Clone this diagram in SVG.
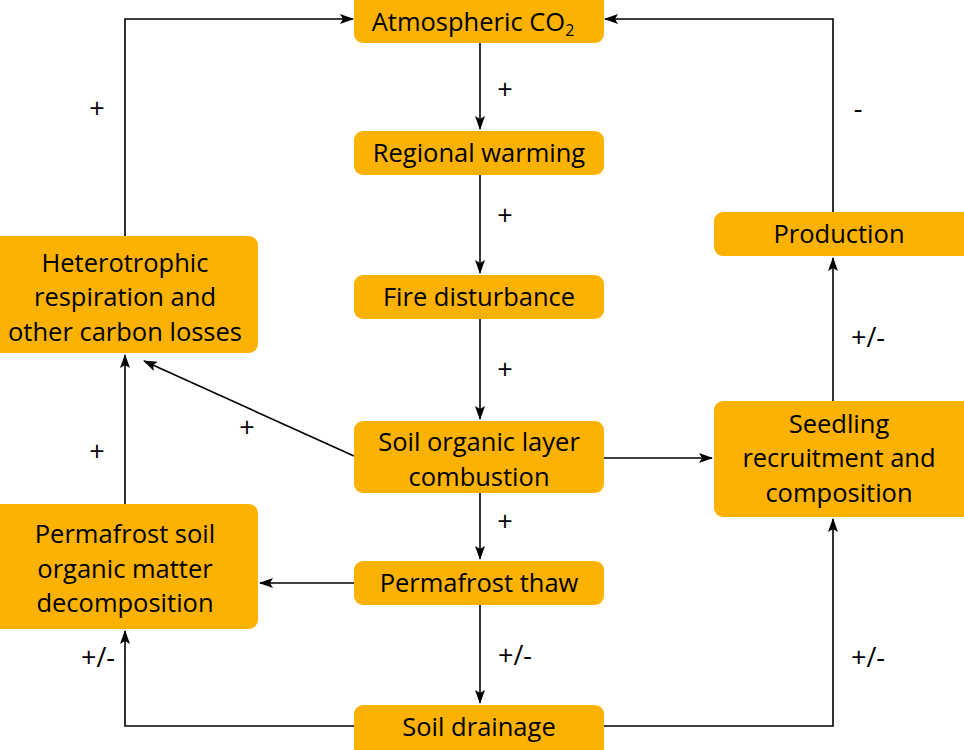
<svg xmlns="http://www.w3.org/2000/svg" width="964" height="750" viewBox="0 0 964 750">
<style>
.n rect{fill:#FBB202;}
.n text{font-family:"Open Sans","Noto Sans",sans-serif;font-size:25.5px;fill:#000;text-anchor:middle;}
.c path{fill:none;stroke:#000;stroke-width:1.6;}
.l{font-family:"Open Sans","Noto Sans",sans-serif;font-size:27px;fill:#000;text-anchor:middle;}
</style>
<defs>
<marker id="a" markerWidth="14" markerHeight="10" refX="13" refY="5" orient="auto" markerUnits="userSpaceOnUse">
<path d="M0,0 L14,5 L0,10 L3,5 Z" fill="#000"/>
</marker>
</defs>
<rect width="964" height="750" fill="#fff"/>
<g class="c">
<path d="M125,236 V19 H353" marker-end="url(#a)"/>
<path d="M833,212 V19 H605" marker-end="url(#a)"/>
<path d="M480,43 V129" marker-end="url(#a)"/>
<path d="M480,175 V273" marker-end="url(#a)"/>
<path d="M480,319 V419" marker-end="url(#a)"/>
<path d="M480,493 V559" marker-end="url(#a)"/>
<path d="M480,605 V703" marker-end="url(#a)"/>
<path d="M354,456 L144,361" marker-end="url(#a)"/>
<path d="M604,458 H712" marker-end="url(#a)"/>
<path d="M125,504 V355" marker-end="url(#a)"/>
<path d="M354,583 H260" marker-end="url(#a)"/>
<path d="M354,726 H125 V631" marker-end="url(#a)"/>
<path d="M604,726 H833 V519" marker-end="url(#a)"/>
<path d="M833,401 V258" marker-end="url(#a)"/>
</g>
<g>
<text class="l" x="97" y="118">+</text>
<text class="l" x="858" y="118">-</text>
<text class="l" x="505" y="99">+</text>
<text class="l" x="505" y="225">+</text>
<text class="l" x="505" y="379">+</text>
<text class="l" x="505" y="531">+</text>
<text class="l" x="515" y="665">+/-</text>
<text class="l" x="247" y="437">+</text>
<text class="l" x="97" y="461">+</text>
<text class="l" x="98" y="667">+/-</text>
<text class="l" x="868" y="667">+/-</text>
<text class="l" x="868" y="347">+/-</text>
</g>
<g class="n" id="atmos"><rect x="354" y="-8" width="250" height="51" rx="9"/><text x="473" y="31">Atmospheric CO<tspan font-size="16" dy="5">2</tspan></text></g>
<g class="n" id="warming"><rect x="354" y="131" width="250" height="44" rx="9"/><text x="479" y="162">Regional warming</text></g>
<g class="n" id="fire"><rect x="354" y="275" width="250" height="44" rx="9"/><text x="479" y="306">Fire disturbance</text></g>
<g class="n" id="combustion"><rect x="354" y="421" width="250" height="72" rx="9"/><text x="479" y="451">Soil organic layer</text><text x="479" y="486">combustion</text></g>
<g class="n" id="thaw"><rect x="354" y="561" width="250" height="44" rx="9"/><text x="479" y="592">Permafrost thaw</text></g>
<g class="n" id="drainage"><rect x="354" y="705" width="250" height="55" rx="9"/><text x="479" y="736">Soil drainage</text></g>
<g class="n" id="hetero"><rect x="-10" y="236" width="268" height="117" rx="9"/><text x="125" y="272">Heterotrophic</text><text x="125" y="306">respiration and</text><text x="125" y="341">other carbon losses</text></g>
<g class="n" id="decomp"><rect x="-10" y="504" width="268" height="125" rx="9"/><text x="125" y="543">Permafrost soil</text><text x="125" y="578">organic matter</text><text x="125" y="612">decomposition</text></g>
<g class="n" id="production"><rect x="714" y="212" width="260" height="44" rx="9"/><text x="839" y="243">Production</text></g>
<g class="n" id="seedling"><rect x="714" y="401" width="260" height="116" rx="9"/><text x="839" y="433">Seedling</text><text x="839" y="467">recruitment and</text><text x="839" y="502">composition</text></g>
</svg>
